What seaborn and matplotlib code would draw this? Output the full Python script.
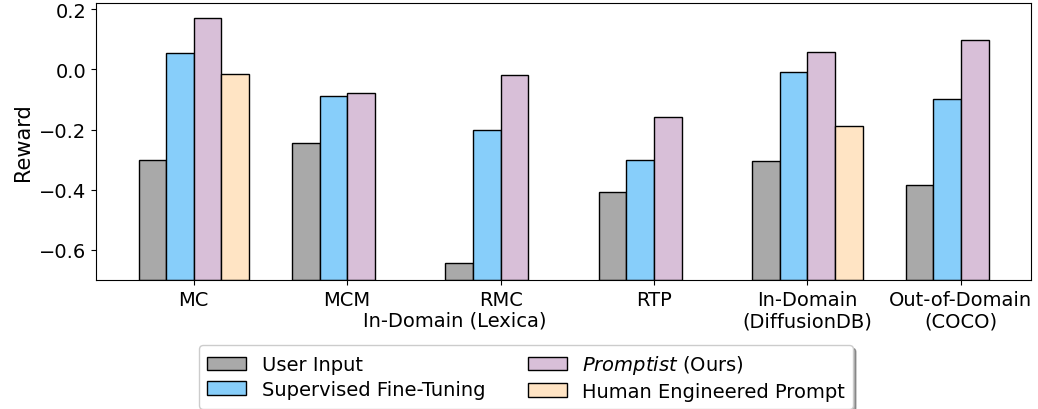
import numpy as np
import pandas as pd
import matplotlib
matplotlib.use("Agg")
import matplotlib.pyplot as plt
import matplotlib.transforms as mtransforms
from matplotlib.patches import Patch
import seaborn as sns

# ---- data ----
categories = ["MC", "MCM", "RMC", "RTP", "In-Domain\n(DiffusionDB)", "Out-of-Domain\n(COCO)"]
methods = ["User Input", "Supervised Fine-Tuning", "Promptist (Ours)", "Human Engineered Prompt"]
legend_labels = ["User Input", "Supervised Fine-Tuning", r"$\it{Promptist}$ (Ours)", "Human Engineered Prompt"]
user_input = [-0.302, -0.245, -0.643, -0.407, -0.304, -0.385]
sft = [0.054, -0.090, -0.202, -0.300, -0.010, -0.100]
promptist = [0.169, -0.078, -0.018, -0.158, 0.059, 0.099]
human = [-0.014, np.nan, np.nan, np.nan, -0.187, np.nan]
colors = ["#A9A9A9", "#87CEFA", "#D8BFD8", "#FFE4C4"]
BASE = -0.7
y_ticks = [-0.6, -0.4, -0.2, 0.0, 0.2]

rows = []
for m, vals in zip(methods, [user_input, sft, promptist, human]):
    for c, v in zip(categories, vals):
        rows.append({"dataset": c, "method": m, "reward": v})
df = pd.DataFrame(rows).dropna()
df["height"] = df["reward"] - BASE

fig = plt.figure(figsize=(10.38, 4.10), dpi=100)
ax = fig.add_axes([0.0925, 0.3146, 0.9933 - 0.0925, 0.990 - 0.3146])

sns.barplot(data=df, x="dataset", y="height", hue="method", order=categories,
            hue_order=methods, palette=colors, width=0.72, errorbar=None,
            bottom=BASE, edgecolor="black", linewidth=1.0, saturation=1,
            legend=False, ax=ax)

ax.set_xlim(-0.637, 5.457)
ax.set_ylim(BASE, 0.22)
ax.set_yticks(y_ticks)
ax.set_yticklabels([f"{t:.1f}".replace("-", "\u2212") for t in y_ticks])
ax.set_xlabel("")
ax.set_ylabel("Reward", fontsize=15)
ax.tick_params(axis="x", labelsize=14)
ax.tick_params(axis="y", labelsize=14)

trans = mtransforms.offset_copy(
    mtransforms.blended_transform_factory(ax.transData, ax.transAxes),
    fig=fig, x=0, y=-30, units="dots")
ax.text(1.70, 0, "In-Domain (Lexica)", transform=trans, ha="center", va="top", fontsize=14)

handles = [Patch(facecolor=c, edgecolor="black", label=l) for c, l in zip(colors, legend_labels)]
fig.legend(handles=handles, loc="upper center", bbox_to_anchor=(0.507, 0.155), ncol=2,
           fontsize=14, shadow=True, frameon=True, borderaxespad=0.0,
           labelspacing=0.3, columnspacing=2.2)

fig.savefig("out.png", dpi=100)
